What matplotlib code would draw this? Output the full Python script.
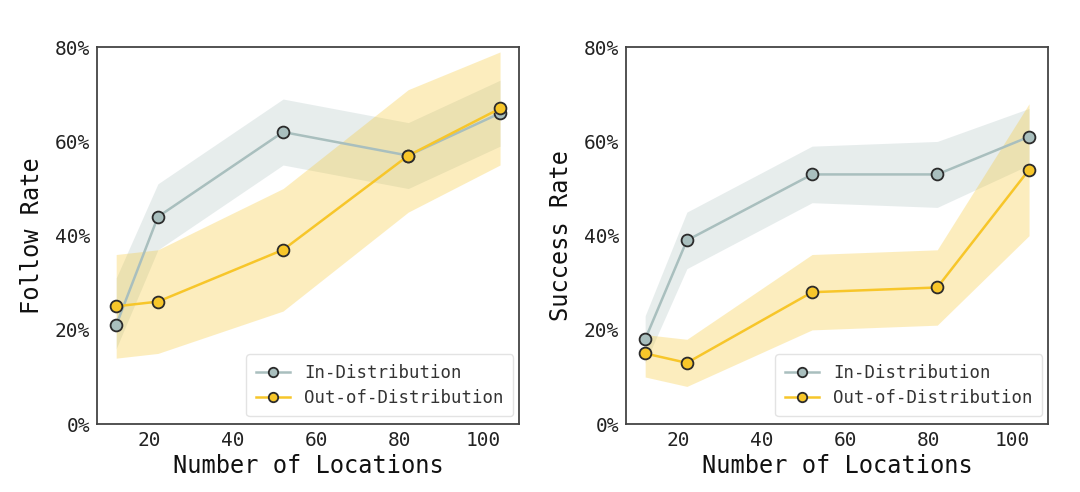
import numpy as np
import matplotlib
matplotlib.use("Agg")
import matplotlib.pyplot as plt
from matplotlib.ticker import PercentFormatter

plt.rcParams['font.family'] = ['DejaVu Sans Mono']

# number of locations
locations = [12, 22, 52, 82, 104]

# follow rate (%)
follow_id = [21, 44, 62, 57, 66]
follow_id_lo = [16, 37, 55, 50, 59]
follow_id_hi = [31, 51, 69, 64, 73]
follow_ood = [25, 26, 37, 57, 67]
follow_ood_lo = [14, 15, 24, 45, 55]
follow_ood_hi = [36, 37, 50, 71, 79]

# success rate (%)
success_id = [18, 39, 53, 53, 61]
success_id_lo = [13, 33, 47, 46, 55]
success_id_hi = [23, 45, 59, 60, 67]
success_ood = [15, 13, 28, 29, 54]
success_ood_lo = [10, 8, 20, 21, 40]
success_ood_hi = [19, 18, 36, 37, 68]

id_color = "#A9BFBE"
ood_color = "#F7C62A"

fig = plt.figure(figsize=(10.8, 4.92), dpi=100)
ax1 = fig.add_axes([0.0898, 0.138, 0.391, 0.766])
ax2 = fig.add_axes([0.5796, 0.138, 0.391, 0.766])

panels = [
    (ax1, "Follow Rate", follow_id, follow_id_lo, follow_id_hi,
     follow_ood, follow_ood_lo, follow_ood_hi),
    (ax2, "Success Rate", success_id, success_id_lo, success_id_hi,
     success_ood, success_ood_lo, success_ood_hi),
]

for ax, ylab, y1, lo1, hi1, y2, lo2, hi2 in panels:
    ax.fill_between(locations, lo1, hi1, color=id_color, alpha=0.28, lw=0)
    ax.fill_between(locations, lo2, hi2, color=ood_color, alpha=0.3, lw=0)
    ax.plot(locations, y1, color=id_color, lw=1.8, marker='o', ms=8.5,
            mfc=id_color, mec="#2b2b2b", mew=1.3, label="In-Distribution")
    ax.plot(locations, y2, color=ood_color, lw=1.8, marker='o', ms=8.5,
            mfc=ood_color, mec="#2b2b2b", mew=1.3, label="Out-of-Distribution")
    ax.set_ylim(0, 80)
    ax.set_yticks([0, 20, 40, 60, 80])
    ax.yaxis.set_major_formatter(PercentFormatter(decimals=0))
    ax.set_xticks([20, 40, 60, 80, 100])
    ax.tick_params(length=0, labelsize=14, colors="#222222", pad=5)
    ax.set_xlabel("Number of Locations", fontsize=17, color="#111111", labelpad=3)
    ax.set_ylabel(ylab, fontsize=17, color="#111111", labelpad=8)
    for s in ax.spines.values():
        s.set_color("#444444")
        s.set_linewidth(1.3)
    leg = ax.legend(loc="lower right", fontsize=12.5, frameon=True,
                    borderpad=0.55, handlelength=2.0, labelspacing=0.4,
                    markerscale=0.8, borderaxespad=0,
                    bbox_to_anchor=(0.986, 0.021))
    leg.get_frame().set_edgecolor("#dddddd")
    for t in leg.get_texts():
        t.set_color("#333333")

fig.savefig("out.png", dpi=100)
